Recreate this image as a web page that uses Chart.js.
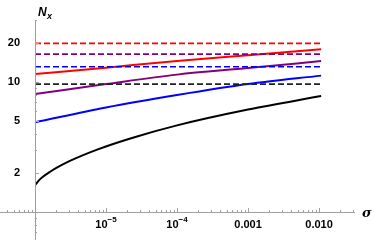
<!DOCTYPE html>
<html>
<head>
<meta charset="utf-8">
<script src="https://cdn.jsdelivr.net/npm/chart.js@4.4.0/dist/chart.umd.min.js"></script>
<style>
  html, body { margin: 0; padding: 0; background: #fff; }
</style>
</head>
<body>
<canvas id="grafico" width="374" height="240"></canvas>
<script>
// valores de sigma donde se leen las curvas
const sigmaRojo = [1e-6, 1e-5, 1e-4, 1e-3, 0.0107];
const nRojo = [11.5, 12.9, 14.5, 16.1, 17.9];
const sigmaMorado = [1e-6, 1e-5, 1e-4, 1e-3, 0.0107];
const nMorado = [8.08, 9.65, 11.4, 12.8, 14.5];
const sigmaAzul = [1e-6, 1e-5, 1e-4, 1e-3, 0.0107];
const nAzul = [4.9, 6.37, 7.94, 9.65, 11.2];
const sigmaNegro = [1e-6, 1.18e-6, 1.63e-6, 3.1e-6, 7.5e-6, 2.2e-5, 1e-4, 1e-3, 0.0107];
const nNegro = [1.61, 1.79, 2.04, 2.47, 3.02, 3.68, 4.64, 6.14, 7.8];

// limites constantes (lineas discontinuas)
const limiteRojo = 19.8;
const limiteMorado = 16.4;
const limiteAzul = 13.1;
const limiteNegro = 9.65;
const sigmaLimites = [1e-6, 0.0107];

// marcas de los ejes
const ticksX = [1e-5, 1e-4, 1e-3, 1e-2];
const etiquetasX = [["10", "−5"], ["10", "−4"], ["0.001", ""], ["0.010", ""]];
const ticksY = [2, 5, 10, 20];
const etiquetasY = ["2", "5", "10", "20"];

const puntos = (xs, ys) => xs.map((x, i) => ({ x: x, y: ys[i] }));
const constante = (v) => sigmaLimites.map(x => ({ x: x, y: v }));

const curva = (data, color) => ({
  data: data, borderColor: color, borderWidth: 2,
  pointRadius: 0, cubicInterpolationMode: "monotone", fill: false
});
const discontinua = (v, color) => ({
  data: constante(v), borderColor: color, borderWidth: 1.7,
  borderDash: [6, 3], pointRadius: 0, fill: false
});

let datos = {
  datasets: [
    discontinua(limiteNegro, "#222222"),
    discontinua(limiteAzul, "#0000ff"),
    discontinua(limiteMorado, "#800080"),
    discontinua(limiteRojo, "#ff0000"),
    curva(puntos(sigmaNegro, nNegro), "#000000"),
    curva(puntos(sigmaAzul, nAzul), "#0000ff"),
    curva(puntos(sigmaMorado, nMorado), "#800080"),
    curva(puntos(sigmaRojo, nRojo), "#ff0000"),
  ],
};

const fuente = "'Liberation Sans', Arial, sans-serif";

// ejes al estilo Mathematica: cruzan en (1e-6, 1), marcas hacia dentro
const ejes = {
  id: "ejes",
  afterDatasetsDraw(chart) {
    const c = chart.ctx;
    const sx = chart.scales.x, sy = chart.scales.y;
    const x0 = sx.getPixelForValue(1e-6);
    const y0 = sy.getPixelForValue(1);
    c.save();
    c.strokeStyle = "#a0a0a0";
    c.lineWidth = 1;
    c.beginPath();
    c.moveTo(0, y0 + 0.5); c.lineTo(chart.chartArea.right, y0 + 0.5);
    c.moveTo(x0 + 0.5, chart.chartArea.top); c.lineTo(x0 + 0.5, 240);
    // marcas del eje x
    for (let e = -7; e <= -2; e++) {
      for (let m = 1; m <= 9; m++) {
        const v = m * Math.pow(10, e);
        const px = Math.round(sx.getPixelForValue(v)) + 0.5;
        if (px < 0 || px > chart.chartArea.right) continue;
        const len = m === 1 ? 4 : 2;
        c.moveTo(px, y0); c.lineTo(px, y0 - len);
      }
    }
    // marcas del eje y
    for (let e = -1; e <= 1; e++) {
      for (let m = 1; m <= 9; m++) {
        const v = m * Math.pow(10, e);
        const py = Math.round(sy.getPixelForValue(v)) + 0.5;
        if (py < chart.chartArea.top || py > 240) continue;
        const len = (m === 1 || m === 2 || m === 5) ? 4 : 2;
        c.moveTo(x0, py); c.lineTo(x0 + len, py);
      }
    }
    c.stroke();

    // etiquetas del eje x (con exponentes)
    c.fillStyle = "#000";
    c.textBaseline = "alphabetic";
    ticksX.forEach((v, i) => {
      const [base, exp] = etiquetasX[i];
      const px = sx.getPixelForValue(v);
      c.font = "bold 11px " + fuente;
      const wb = c.measureText(base).width;
      c.font = "bold 8px " + fuente;
      const we = exp ? c.measureText(exp).width : 0;
      const inicio = px - (wb + we) / 2;
      c.font = "bold 11px " + fuente;
      c.fillText(base, inicio, y0 + 16);
      if (exp) {
        c.font = "bold 8px " + fuente;
        c.fillText(exp, inicio + wb, y0 + 10);
      }
    });

    // titulos de los ejes
    c.font = "italic bold 12px " + fuente;
    c.fillText("N", 38, 16);
    c.font = "italic bold 9px " + fuente;
    c.fillText("x", 47, 19);
    c.font = "italic bold 13px 'DejaVu Serif', serif";
    c.fillText("σ", 362, 217);
    c.restore();
  },
};

let opciones = {
  responsive: false,
  animation: false,
  layout: { padding: { left: 0, top: 20, right: 19, bottom: 0 } },
  plugins: { legend: { display: false }, tooltip: { enabled: false } },
  scales: {
    x: {
      type: "logarithmic",
      min: 1e-6,
      max: 0.0321,
      grid: { display: false },
      border: { display: false },
      afterFit: (s) => { s.height = 28; },
      afterBuildTicks: (s) => { s.ticks = ticksX.map(v => ({ value: v })); },
      ticks: { display: false },
    },
    y: {
      type: "logarithmic",
      min: 1,
      max: 30,
      grid: { display: false },
      border: { display: false },
      afterFit: (s) => { s.width = 35; },
      afterBuildTicks: (s) => { s.ticks = ticksY.map(v => ({ value: v })); },
      ticks: {
        autoSkip: false, padding: 7, color: "#000",
        font: { family: fuente, size: 11, weight: "bold" },
        callback: (v, i) => etiquetasY[i],
      },
    },
  },
};

let ctx = document.getElementById("grafico").getContext("2d");
let grafico = new Chart(ctx, {
  type: "line",
  data: datos,
  options: opciones,
  plugins: [ejes],
});
</script>
</body>
</html>
